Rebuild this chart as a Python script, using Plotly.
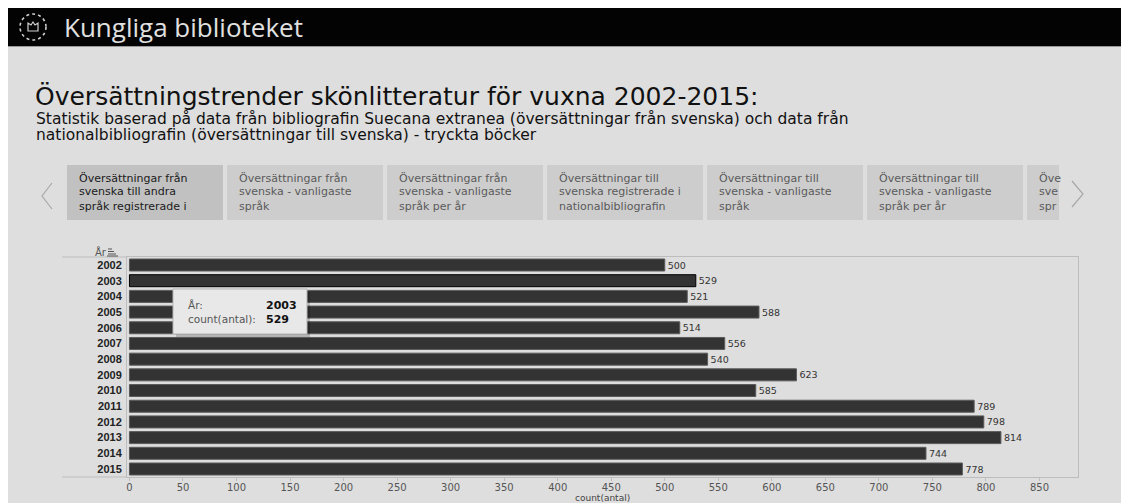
import plotly.graph_objects as go

# ---- data ----
years = ["2002", "2003", "2004", "2005", "2006", "2007", "2008",
         "2009", "2010", "2011", "2012", "2013", "2014", "2015"]
counts = [500, 529, 521, 588, 514, 556, 540, 623, 585, 789, 798, 814, 744, 778]
x_ticks = list(range(0, 851, 50))
highlight_year = "2003"

header_text = "Kungliga biblioteket"
title_text = "Översättningstrender skönlitteratur för vuxna 2002-2015:"
subtitle_lines = [
    "Statistik baserad på data från bibliografin Suecana extranea (översättningar från svenska) och data från",
    "nationalbibliografin (översättningar till svenska) - tryckta böcker",
]
tabs = [
    ["Översättningar från", "svenska till andra", "språk registrerade i"],
    ["Översättningar från", "svenska - vanligaste", "språk"],
    ["Översättningar från", "svenska - vanligaste", "språk per år"],
    ["Översättningar till", "svenska registrerade i", "nationalbibliografin"],
    ["Översättningar till", "svenska - vanligaste", "språk"],
    ["Översättningar till", "svenska - vanligaste", "språk per år"],
    ["Öve", "sve", "spr"],
]

# page has an 8px body margin; figure occupies the rest of the window
OFF = 8
FW, FH = 1129 - OFF, 503 - OFF
FONT = "DejaVu Sans, Liberation Sans, sans-serif"
AR = "Liberation Sans, Arial, sans-serif"
BG = "#dedede"


def px(x):
    return (x - OFF) / FW


def py(y):
    return 1 - (y - OFF) / FH


shapes = []
annotations = []

# header bar
shapes.append(dict(type="rect", xref="paper", yref="paper", x0=0, x1=1, y0=py(46), y1=1,
                   fillcolor="#030303", line_width=0, layer="below"))
shapes.append(dict(type="line", xref="paper", yref="paper", x0=0, x1=1, y0=py(46.5), y1=py(46.5),
                   line=dict(color="#9a9a9a", width=1), layer="below"))
# logo
shapes.append(dict(type="circle", xref="paper", yref="paper", x0=px(20), x1=px(46), y0=py(40), y1=py(14),
                   line=dict(color="#cfcfcf", width=1.6, dash="dot"), layer="above"))
shapes.append(dict(type="path", xref="paper", yref="paper",
                   path=f"M {px(28)} {py(31)} L {px(28)} {py(23)} L {px(31)} {py(25)} L {px(33)} {py(22)} "
                        f"L {px(35)} {py(25)} L {px(38)} {py(23)} L {px(38)} {py(31)} Z",
                   line=dict(color="#d0d0d0", width=1.2), layer="above"))
annotations.append(dict(text=header_text, xref="paper", yref="paper", x=px(62), y=py(27),
                        xanchor="left", yanchor="middle", showarrow=False,
                        font=dict(family="Open Sans, sans-serif", size=26, color="#e0e0e0")))

# title and subtitle
annotations.append(dict(text=title_text, xref="paper", yref="paper", x=px(33), y=py(96),
                        xanchor="left", yanchor="middle", showarrow=False,
                        font=dict(family=FONT, size=25, color="#111")))
for i, line in enumerate(subtitle_lines):
    annotations.append(dict(text=line, xref="paper", yref="paper", x=px(34), y=py(119 + 16 * i),
                            xanchor="left", yanchor="middle", showarrow=False,
                            font=dict(family=FONT, size=15.5, color="#111")))

# tabs
for t, lines in enumerate(tabs):
    x0 = 67 + 160 * t
    x1 = min(x0 + 156, 1059)
    fill = "#c1c1c1" if t == 0 else "#cdcdcd"
    shapes.append(dict(type="rect", xref="paper", yref="paper", x0=px(x0), x1=px(x1), y0=py(220), y1=py(165),
                       fillcolor=fill, line_width=0, layer="below"))
    for j, ln in enumerate(lines):
        annotations.append(dict(text=ln, xref="paper", yref="paper", x=px(x0 + 10), y=py(178 + 14 * j),
                                xanchor="left", yanchor="middle", showarrow=False,
                                font=dict(family=FONT, size=11, color="#1a1a1a" if t == 0 else "#5a5a5a")))
# arrows
shapes.append(dict(type="path", xref="paper", yref="paper",
                   path=f"M {px(52)} {py(183)} L {px(42)} {py(196)} L {px(52)} {py(209)}",
                   line=dict(color="#a8a8a8", width=1.2), layer="above"))
shapes.append(dict(type="path", xref="paper", yref="paper",
                   path=f"M {px(1072)} {py(181)} L {px(1083)} {py(194)} L {px(1072)} {py(207)}",
                   line=dict(color="#a8a8a8", width=1.2), layer="above"))

# sort header "År"
annotations.append(dict(text="År", xref="paper", yref="paper", x=px(93), y=py(252),
                        xanchor="left", yanchor="middle", showarrow=False,
                        font=dict(family=FONT, size=10, color="#555")))
for k, L in enumerate([4, 6, 8]):
    shapes.append(dict(type="line", xref="paper", yref="paper", x0=px(108), x1=px(108 + L),
                       y0=py(249 + 2.5 * k), y1=py(249 + 2.5 * k),
                       line=dict(color="#555", width=1), layer="above"))
shapes.append(dict(type="line", xref="paper", yref="paper", x0=px(107), x1=px(118),
                   y0=py(256), y1=py(256), line=dict(color="#555", width=1), layer="above"))

# frame extension lines to the left of plot
for yy in (257, 477):
    shapes.append(dict(type="line", xref="paper", yref="paper", x0=px(62), x1=px(127),
                       y0=py(yy), y1=py(yy), line=dict(color="#bdbdbd", width=1), layer="below"))

# x axis title
annotations.append(dict(text="count(antal)", xref="paper", yref="paper", x=px(602), y=py(498),
                        xanchor="center", yanchor="middle", showarrow=False,
                        font=dict(family=FONT, size=9, color="#444")))

# tooltip
hi = years.index(highlight_year)
shapes.append(dict(type="rect", xref="paper", yref="paper", x0=px(176), x1=px(310), y0=py(337), y1=py(292),
                   fillcolor="rgba(0,0,0,0.18)", line_width=0, layer="above"))
shapes.append(dict(type="rect", xref="paper", yref="paper", x0=px(173), x1=px(307), y0=py(334), y1=py(289),
                   fillcolor="#e8e8e8", line=dict(color="#b5b5b5", width=1), layer="above"))
annotations.append(dict(text="År:", xref="paper", yref="paper", x=px(186), y=py(305),
                        xanchor="left", yanchor="middle", showarrow=False,
                        font=dict(family=FONT, size=10.5, color="#555")))
annotations.append(dict(text=f"<b>{years[hi]}</b>", xref="paper", yref="paper", x=px(264), y=py(305),
                        xanchor="left", yanchor="middle", showarrow=False,
                        font=dict(family=FONT, size=11, color="#111")))
annotations.append(dict(text="count(antal):", xref="paper", yref="paper", x=px(186), y=py(319),
                        xanchor="left", yanchor="middle", showarrow=False,
                        font=dict(family=FONT, size=10.5, color="#555")))
annotations.append(dict(text=f"<b>{counts[hi]}</b>", xref="paper", yref="paper", x=px(264), y=py(319),
                        xanchor="left", yanchor="middle", showarrow=False,
                        font=dict(family=FONT, size=11, color="#111")))

line_colors = ["#000" if y == highlight_year else "#5a5a5a" for y in years]

fig = go.Figure(go.Bar(
    x=counts, y=years, orientation="h",
    marker=dict(color="#333333", line=dict(color=line_colors, width=1)),
    width=0.765,
    text=[str(c) for c in counts], textposition="outside",
    textfont=dict(family=FONT, size=9.5, color="#333"),
    cliponaxis=False, hoverinfo="skip",
))

fig.update_layout(
    width=FW, height=FH,
    margin=dict(l=0, r=0, t=0, b=0),
    paper_bgcolor=BG, plot_bgcolor=BG,
    showlegend=False,
    shapes=shapes, annotations=annotations,
    xaxis=dict(
        domain=[px(127), px(1078)],
        range=[-2.3, 886],
        tickvals=x_ticks, ticktext=[str(v) for v in x_ticks],
        ticks="outside", ticklen=3, tickcolor="#bdbdbd",
        ticklabelstandoff=-2,
        tickfont=dict(family=FONT, size=10, color="#555"),
        showgrid=False, zeroline=False,
        showline=True, linecolor="#bdbdbd", linewidth=1, mirror=True,
    ),
    yaxis=dict(
        domain=[py(477), py(257)],
        type="category", categoryorder="array", categoryarray=years,
        range=[13.51, -0.51],
        ticks="", ticklabelstandoff=2,
        tickfont=dict(family=AR, size=11, color="#222", weight="bold"),
        showgrid=False, zeroline=False,
        showline=True, linecolor="#bdbdbd", linewidth=1, mirror=True,
    ),
)

fig.write_html("out.html")
